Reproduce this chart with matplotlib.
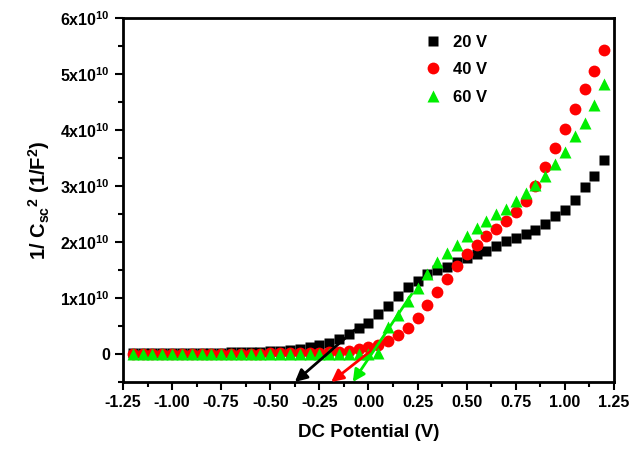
import numpy as np
import matplotlib
matplotlib.use("Agg")
import matplotlib.pyplot as plt
from matplotlib.ticker import MultipleLocator, FuncFormatter

plt.rcParams['font.family'] = ['Liberation Sans', 'DejaVu Sans']
plt.rcParams['font.weight'] = 'bold'
plt.rcParams['mathtext.default'] = 'regular'

# bias potential (V)
potential = np.round(np.arange(-1.2, 1.2001, 0.05), 2)

# 1/Csc^2 in units of 1e10 F^-2
mott_20v = [0.01, 0.01, 0.01, 0.01, 0.015, 0.015, 0.02, 0.02, 0.02, 0.025,
            0.03, 0.03, 0.035, 0.04, 0.05, 0.06, 0.07, 0.09, 0.12, 0.16,
            0.19, 0.26, 0.35, 0.47, 0.56, 0.71, 0.86, 1.04, 1.19, 1.31,
            1.42, 1.50, 1.56, 1.64, 1.71, 1.79, 1.84, 1.93, 2.01, 2.07,
            2.14, 2.22, 2.32, 2.47, 2.57, 2.75, 2.98, 3.18, 3.46]
mott_40v = [0.0, 0.0, 0.0, 0.0, 0.0, 0.0, 0.0, 0.0, 0.0, 0.0,
            0.0, 0.005, 0.005, 0.005, 0.01, 0.01, 0.01, 0.015, 0.02, 0.02,
            0.03, 0.04, 0.06, 0.09, 0.12, 0.16, 0.23, 0.34, 0.47, 0.65,
            0.88, 1.10, 1.34, 1.58, 1.78, 1.95, 2.10, 2.23, 2.38, 2.53,
            2.73, 3.00, 3.34, 3.67, 4.01, 4.38, 4.73, 5.06, 5.43]
mott_60v = [0.0, 0.0, 0.0, 0.0, 0.0, 0.0, 0.0, 0.0, 0.0, 0.0,
            0.0, 0.0, 0.0, 0.0, 0.0, 0.0, 0.0, 0.0, 0.0, 0.0,
            0.0, 0.0, 0.0, 0.0, 0.0, 0.02, 0.48, 0.70, 0.94, 1.18,
            1.43, 1.64, 1.81, 1.95, 2.10, 2.25, 2.37, 2.50, 2.59, 2.74,
            2.87, 3.02, 3.18, 3.39, 3.61, 3.89, 4.13, 4.44, 4.82]

# linear extrapolations to the flat-band potential: (start V, start y) -> (end V, end y)
fit_start_v = [-0.07, 0.10, 0.22]
fit_start_y = [0.43, 0.30, 1.07]
fit_end_v = [-0.375, -0.19, -0.08]
fit_end_y = [-0.5, -0.5, -0.5]
fit_colors = ['black', 'red', '#00ee00']

scale = 1e10

fig = plt.figure(figsize=(6.32, 4.53), dpi=100)
ax = fig.add_axes([0.1946, 0.1567, 0.7769, 0.8036])

ax.plot(potential, np.array(mott_20v) * scale, 's', color='black', ms=7.5, mec='none', label='20 V')
ax.plot(potential, np.array(mott_40v) * scale, 'o', color='red', ms=8.5, mec='none', label='40 V')
ax.plot(potential, np.array(mott_60v) * scale, '^', color='#00ee00', ms=9, mec='none', label='60 V')

for sv, sy, ev, ey, c in zip(fit_start_v, fit_start_y, fit_end_v, fit_end_y, fit_colors):
    ax.annotate('', xy=(ev, ey * scale), xytext=(sv, sy * scale),
                arrowprops=dict(arrowstyle='-|>', color=c, lw=2, mutation_scale=18,
                                shrinkA=0, shrinkB=0), zorder=5)

ax.set_xlim(-1.25, 1.25)
ax.set_ylim(-0.5 * scale, 6 * scale)
ax.xaxis.set_major_locator(MultipleLocator(0.25))
ax.xaxis.set_minor_locator(MultipleLocator(0.125))
ax.yaxis.set_major_locator(MultipleLocator(scale))
ax.yaxis.set_minor_locator(MultipleLocator(0.5 * scale))
ax.xaxis.set_major_formatter(FuncFormatter(lambda v, p: f'{v:.2f}'))


def yfmt(v, p):
    n = int(round(v / scale))
    if n == 0:
        return '0'
    return f'{n}x10$^{{10}}$'


ax.yaxis.set_major_formatter(FuncFormatter(yfmt))
ax.tick_params(which='major', direction='out', length=6, width=1.5, labelsize=11.5)
ax.tick_params(which='minor', direction='out', length=3.5, width=1.5)
for s in ax.spines.values():
    s.set_linewidth(2)

ax.set_xlabel('DC Potential (V)', fontsize=13.5, fontweight='bold', labelpad=10)
ax.set_ylabel('1/ C$_{sc}$$^{2}$ (1/F$^{2}$)', fontsize=14.5, fontweight='bold', labelpad=6)

leg = ax.legend(loc='upper left', bbox_to_anchor=(0.58, 0.995), frameon=False,
                fontsize=12, handletextpad=0.6, labelspacing=0.75, handlelength=1.2)

fig.savefig('out.png', dpi=100)
